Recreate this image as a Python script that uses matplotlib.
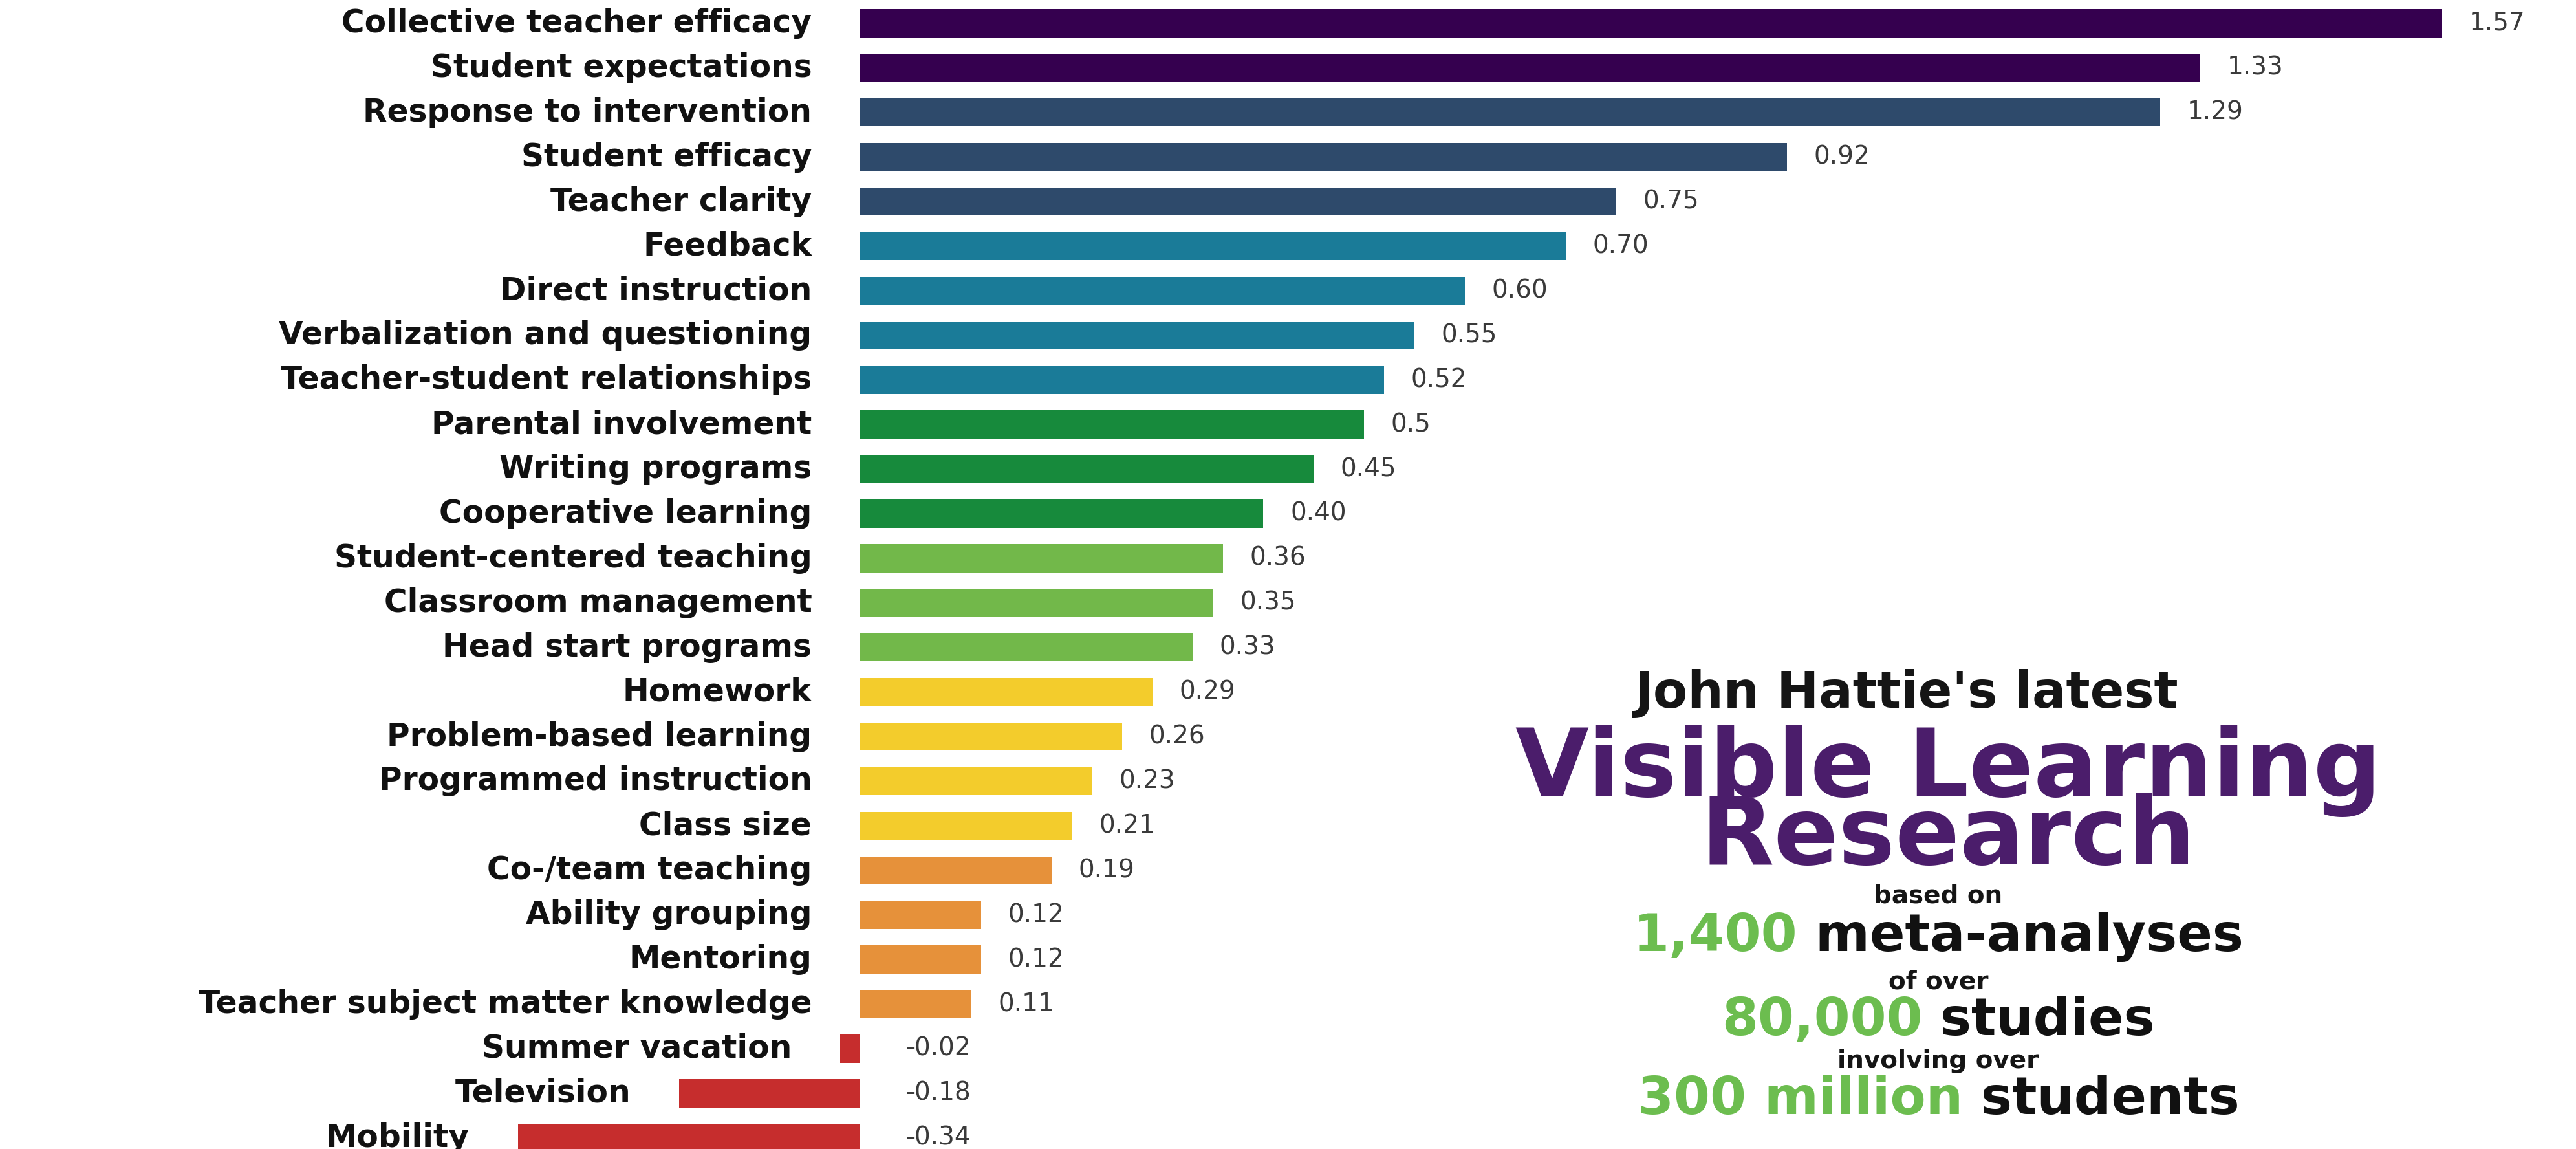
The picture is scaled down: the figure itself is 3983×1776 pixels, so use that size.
import matplotlib
matplotlib.use("Agg")
import matplotlib.pyplot as plt

# Hattie effect sizes (top to bottom as in the chart)
factors = [
    "Collective teacher efficacy", "Student expectations", "Response to intervention",
    "Student efficacy", "Teacher clarity", "Feedback", "Direct instruction",
    "Verbalization and questioning", "Teacher-student relationships",
    "Parental involvement", "Writing programs", "Cooperative learning",
    "Student-centered teaching", "Classroom management", "Head start programs",
    "Homework", "Problem-based learning", "Programmed instruction", "Class size",
    "Co-/team teaching", "Ability grouping", "Mentoring",
    "Teacher subject matter knowledge", "Summer vacation", "Television", "Mobility",
]
effect_sizes = [1.57, 1.33, 1.29, 0.92, 0.75, 0.70, 0.60, 0.55, 0.52, 0.50, 0.45, 0.40,
                0.36, 0.35, 0.33, 0.29, 0.26, 0.23, 0.21, 0.19, 0.12, 0.12, 0.11,
                -0.02, -0.18, -0.34]
value_labels = ["1.57", "1.33", "1.29", "0.92", "0.75", "0.70", "0.60", "0.55", "0.52",
                "0.5", "0.45", "0.40", "0.36", "0.35", "0.33", "0.29", "0.26", "0.23",
                "0.21", "0.19", "0.12", "0.12", "0.11", "-0.02", "-0.18", "-0.34"]
groups = [0, 0, 1, 1, 1, 2, 2, 2, 2, 3, 3, 3, 4, 4, 4, 5, 5, 5, 5, 6, 6, 6, 6, 7, 7, 7]

group_colors = ["#35004f", "#2e4a6b", "#1a7b98", "#178a3c",
                "#72b84a", "#f3cc2c", "#e6913a", "#c62d2d"]

fig = plt.figure(figsize=(39.83, 17.76), dpi=100)
ax = fig.add_axes([0, 0, 1, 1])

rows = list(range(len(factors)))
colors = [group_colors[g] for g in groups]
ax.barh(rows, effect_sizes, height=0.63, color=colors)

for r, name, v, lab in zip(rows, factors, effect_sizes, value_labels):
    ax.annotate(name, xy=(min(v, 0), r), xytext=(-54, 0), textcoords="offset points",
                ha="right", va="center", fontsize=35, fontweight="bold", color="#111111")
    off = 30 if v >= 0 else 50
    ax.annotate(lab, xy=(max(v, 0), r), xytext=(off, 0), textcoords="offset points",
                ha="left", va="center", fontsize=28, color="#3a3a3a")

ax.set_xlim(-0.854, 1.703)
ax.set_ylim(25.25, -0.52)
ax.axis("off")

# right-hand text block
W, H = 3983.0, 1776.0
cx = 2997 / W
purple = "#4b1d6b"
green = "#6cbd4f"

fig.text(2948 / W, 1 - 1094 / H, "John Hattie's latest", ha="center", va="baseline",
         fontsize=56, fontweight="bold", color="#151515")
# baseline of a two-line text sits on the last line
fig.text(3012 / W, 1 - 1336 / H, "Visible Learning\nResearch", ha="center",
         va="baseline", multialignment="center", linespacing=0.66,
         fontsize=106, fontweight="bold", color=purple)
fig.text(cx, 1 - 1396 / H, "based on", ha="center", va="baseline",
         fontsize=28, fontweight="bold", color="#151515")
fig.text(cx, 1 - 1528 / H, "of over", ha="center", va="baseline",
         fontsize=28, fontweight="bold", color="#151515")
fig.text(cx, 1 - 1651 / H, "involving over", ha="center", va="baseline",
         fontsize=28, fontweight="bold", color="#151515")

renderer = fig.canvas.get_renderer()


def two_tone(y_px, first, second, size):
    t1 = fig.text(0, 1 - y_px / H, first, ha="left", va="baseline",
                  fontsize=size, fontweight="bold", color=green)
    t2 = fig.text(0, 1 - y_px / H, second, ha="left", va="baseline",
                  fontsize=size, fontweight="bold", color="#111111")
    w1 = t1.get_window_extent(renderer).width
    w2 = t2.get_window_extent(renderer).width
    left = cx * W - (w1 + w2) / 2
    t1.set_x(left / W)
    t2.set_x((left + w1) / W)


two_tone(1470, "1,400", " meta-analyses", 58)
two_tone(1600, "80,000", " studies", 58)
two_tone(1722, "300 million", " students", 58)

fig.savefig("out.png", dpi=100, facecolor="white")
